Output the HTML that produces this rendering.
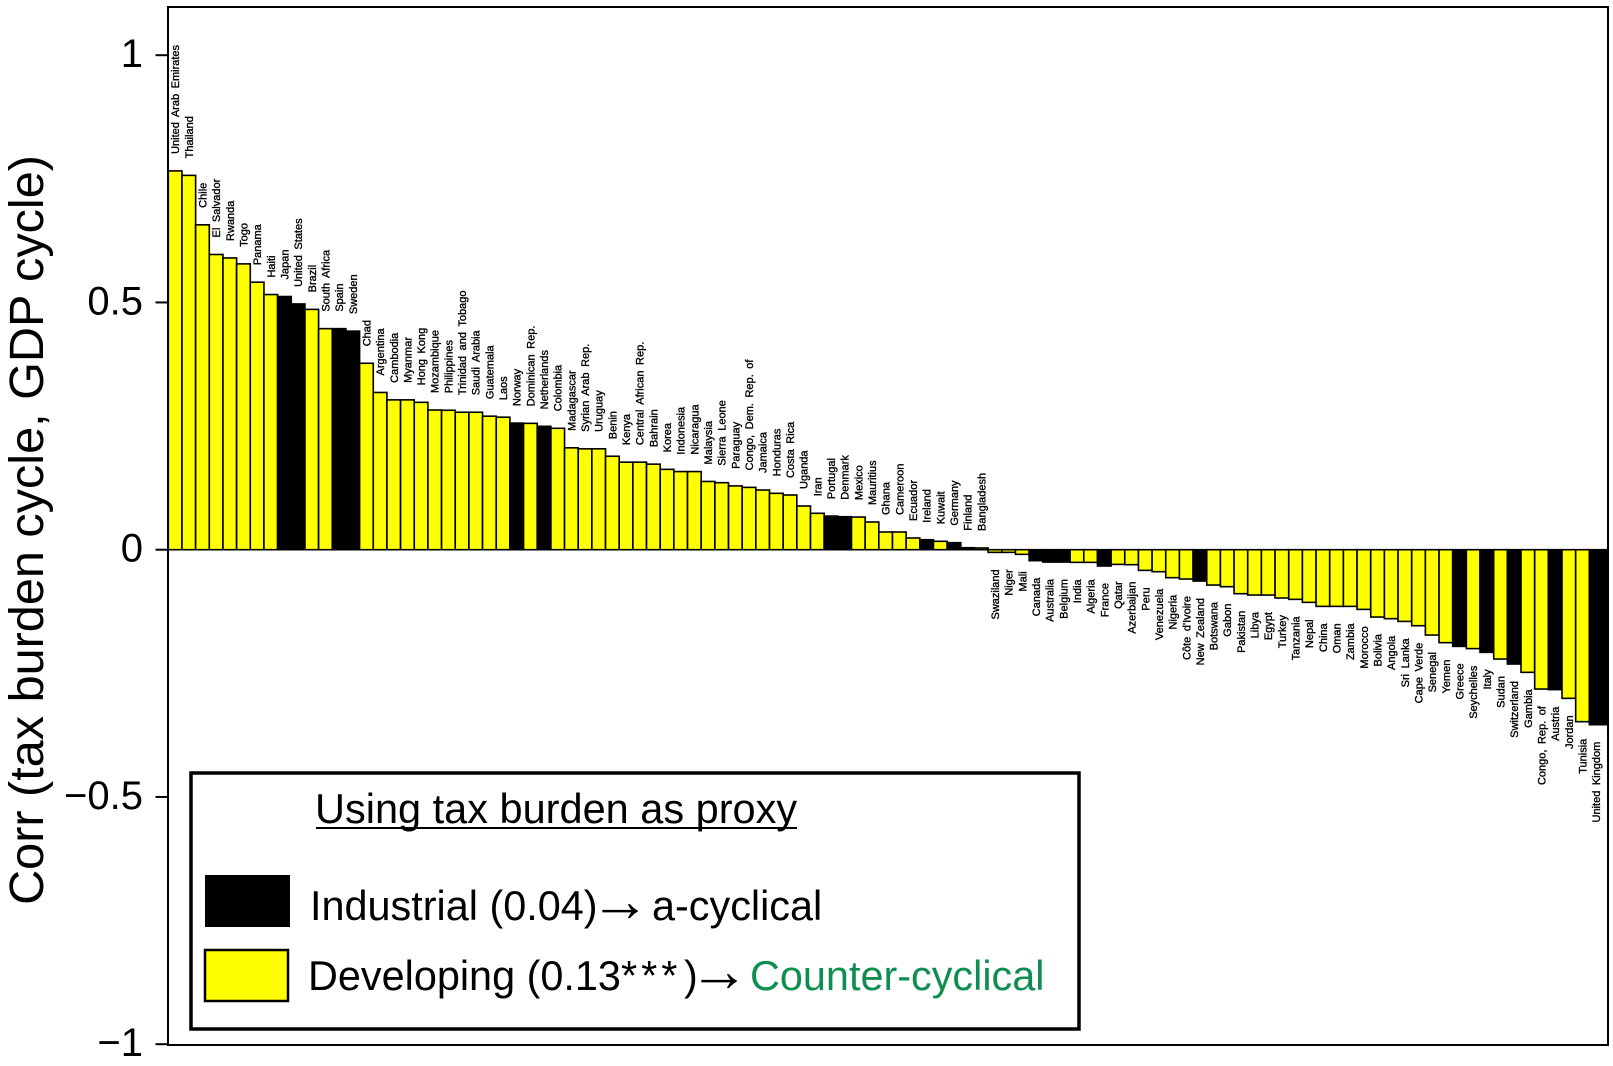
<!DOCTYPE html>
<html lang="en">
<head>
<meta charset="utf-8">
<title>Corr (tax burden cycle, GDP cycle)</title>
<style>
html,body{margin:0;padding:0;background:#fff;}
svg{display:block;font-family:"Liberation Sans",Arial,sans-serif;}
</style>
</head>
<body>
<svg id="chart" xmlns="http://www.w3.org/2000/svg" width="1613" height="1066" viewBox="0 0 1613 1066">
  <rect x="0" y="0" width="1613" height="1066" fill="#fff"/>
  <g id="bars"></g>
  <g id="labels"></g>
  <rect x="168" y="7" width="1440" height="1038" fill="none" stroke="#000" stroke-width="2"/>
  <g id="axis"></g>
  <text transform="translate(43,530) rotate(-90)" text-anchor="middle" font-size="48.6" fill="#000">Corr (tax burden cycle, GDP cycle)</text>

  <g>
    <rect x="191" y="773" width="888" height="256" fill="#fff" stroke="#000" stroke-width="3.5"/>
    <text x="315" y="823" font-size="41.5" fill="#000">Using tax burden as proxy</text>
    <line x1="316" y1="828" x2="797" y2="828" stroke="#000" stroke-width="2"/>
    <rect x="205" y="875" width="85" height="52" fill="#000"/>
    <text font-size="41.4" fill="#000"><tspan x="310" y="920">Industrial (0.04)</tspan><tspan x="590" y="921" font-size="60">→</tspan><tspan x="652" y="920">a-cyclical</tspan></text>
    <rect x="205" y="950" width="83" height="51" fill="#ffff00" stroke="#000" stroke-width="2.5"/>
    <text font-size="41.4" fill="#000"><tspan x="308" y="990">Developing (0.13</tspan><tspan x="621" y="990" letter-spacing="4">***</tspan><tspan x="684" y="990">)</tspan><tspan x="689" y="991" font-size="60">→</tspan><tspan x="750" y="990" fill="#0e8f4f">Counter-cyclical</tspan></text>
  </g>
</svg>
<script>
const countries = ["United Arab Emirates","Thailand","Chile","El Salvador","Rwanda","Togo","Panama","Haiti","Japan","United States","Brazil","South Africa","Spain","Sweden","Chad","Argentina","Cambodia","Myanmar","Hong Kong","Mozambique","Philippines","Trinidad and Tobago","Saudi Arabia","Guatemala","Laos","Norway","Dominican Rep.","Netherlands","Colombia","Madagascar","Syrian Arab Rep.","Uruguay","Benin","Kenya","Central African Rep.","Bahrain","Korea","Indonesia","Nicaragua","Malaysia","Sierra Leone","Paraguay","Congo, Dem. Rep. of","Jamaica","Honduras","Costa Rica","Uganda","Iran","Portugal","Denmark","Mexico","Mauritius","Ghana","Cameroon","Ecuador","Ireland","Kuwait","Germany","Finland","Bangladesh","Swaziland","Niger","Mali","Canada","Australia","Belgium","India","Algeria","France","Qatar","Azerbaijan","Peru","Venezuela","Nigeria","Côte d'Ivoire","New Zealand","Botswana","Gabon","Pakistan","Libya","Egypt","Turkey","Tanzania","Nepal","China","Oman","Zambia","Morocco","Bolivia","Angola","Sri Lanka","Cape Verde","Senegal","Yemen","Greece","Seychelles","Italy","Sudan","Switzerland","Gambia","Congo, Rep. of","Austria","Jordan","Tunisia","United Kingdom"];
const corrValues = [0.766,0.757,0.657,0.597,0.590,0.578,0.541,0.516,0.512,0.497,0.486,0.447,0.447,0.442,0.377,0.318,0.303,0.303,0.298,0.2825,0.282,0.278,0.278,0.270,0.268,0.256,0.2555,0.2495,0.2455,0.206,0.204,0.204,0.189,0.177,0.177,0.173,0.1625,0.158,0.158,0.138,0.1355,0.129,0.126,0.1207,0.114,0.1106,0.0884,0.0736,0.068,0.0667,0.066,0.056,0.0358,0.0358,0.0237,0.0202,0.017,0.0142,0.004,0.0035,-0.0054,-0.0054,-0.0094,-0.0222,-0.025,-0.025,-0.0256,-0.0256,-0.033,-0.0297,-0.0303,-0.0418,-0.0445,-0.0566,-0.0593,-0.0634,-0.0715,-0.0748,-0.089,-0.0917,-0.0917,-0.0977,-0.1004,-0.1065,-0.1146,-0.1146,-0.1146,-0.1207,-0.1362,-0.1395,-0.145,-0.1537,-0.1726,-0.188,-0.1955,-0.2,-0.2076,-0.2211,-0.2312,-0.248,-0.2818,-0.283,-0.3006,-0.3478,-0.3539];
const industrialCountries = ["Japan","United States","Spain","Sweden","Norway","Netherlands","Portugal","Denmark","Ireland","Germany","Finland","Canada","Australia","Belgium","France","New Zealand","Greece","Italy","Switzerland","Austria","United Kingdom"];
const yTickValues = [1,0.5,0,-0.5,-1];
const yTickLabels = ["1","0.5","0","−0.5","−1"];

const SVG_NS = "http://www.w3.org/2000/svg";
const plotLeft = 168.3, plotRight = 1608, barsEnd = 1603, yZero = 549.7, yUnit = 494.5;
function yScale(v){ return yZero - yUnit * v; }
function xBandWidth(){ return (barsEnd - plotLeft) / countries.length; }
function xBand(i){ return plotLeft + i * xBandWidth(); }

const barsGroup = document.getElementById("bars");
const labelsGroup = document.getElementById("labels");
const axisGroup = document.getElementById("axis");

corrValues.forEach(function(v, i){
  const name = countries[i];
  const slug = name.toLowerCase().replace(/[^a-z]+/g, "-");
  const isIndustrial = industrialCountries.indexOf(name) >= 0;
  const isLast = i === countries.length - 1;
  const rect = document.createElementNS(SVG_NS, "rect");
  
  
  const yTop = Math.min(yScale(v), yScale(0));
  rect.setAttribute("x", xBand(i));
  rect.setAttribute("y", yTop);
  rect.setAttribute("width", isLast ? plotRight - xBand(i) : xBandWidth());
  rect.setAttribute("height", Math.abs(yScale(v) - yScale(0)));
  rect.setAttribute("fill", isIndustrial ? "#000" : "#ffff00");
  rect.setAttribute("stroke", "#000");
  rect.setAttribute("stroke-width", "1.6");
  barsGroup.appendChild(rect);

  const label = document.createElementNS(SVG_NS, "text");
  
  
  const cx = xBand(i) + xBandWidth() / 2 + 4;
  const anchorY = v >= 0 ? yScale(v) - 17 : yScale(v) + 17;
  label.setAttribute("transform", "translate(" + cx + "," + anchorY + ") rotate(-90)");
  label.setAttribute("text-anchor", v >= 0 ? "start" : "end");
  label.setAttribute("font-size", "11");
  label.setAttribute("word-spacing", "2.5");
  label.setAttribute("fill", "#000");
  label.setAttribute("stroke", "#000");
  label.setAttribute("stroke-width", "0.35");
  label.textContent = name;
  labelsGroup.appendChild(label);
});

yTickValues.forEach(function(t, i){
  const tick = document.createElementNS(SVG_NS, "line");
  
  
  tick.setAttribute("x1", 155.5);
  tick.setAttribute("x2", 168);
  tick.setAttribute("y1", yScale(t));
  tick.setAttribute("y2", yScale(t));
  tick.setAttribute("stroke", "#000");
  tick.setAttribute("stroke-width", "2");
  axisGroup.appendChild(tick);

  const text = document.createElementNS(SVG_NS, "text");
  
  
  text.setAttribute("x", 143);
  text.setAttribute("y", yScale(t) + 12);
  text.setAttribute("text-anchor", "end");
  text.setAttribute("font-size", "40");
  text.setAttribute("fill", "#000");
  text.textContent = yTickLabels[i];
  axisGroup.appendChild(text);
});
</script>
</body>
</html>
